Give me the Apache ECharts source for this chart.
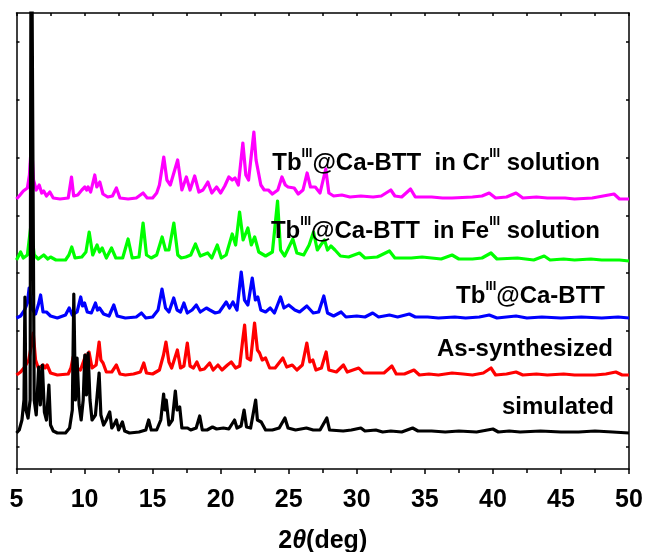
<!DOCTYPE html>
<html>
<head>
<meta charset="utf-8">
<script src="https://cdn.jsdelivr.net/npm/echarts@6/dist/echarts.min.js"></script>
<style>
  html, body { margin: 0; padding: 0; background: #fff; }
  #chart { width: 648px; height: 552px; }
</style>
</head>
<body>
<div id="chart"></div>
<script>
// Powder XRD patterns, intensity in a.u. above each trace's own baseline.
// Each entry: [2theta (deg), intensity]
const simulated = [
  [5.0,0],[5.2,3],[5.4,13],[5.55,33],[5.62,136],[5.7,23],[5.85,15],[6.0,33],[6.08,600],[6.22,600],[6.3,33],
  [6.45,18],[6.63,66],[6.75,28],[6.9,68],[7.05,21],[7.2,13],[7.38,48],[7.5,8],[7.7,2],[8.0,0],
  [8.6,0],[8.9,5],[9.1,23],[9.21,139],[9.33,33],[9.45,75],[9.6,28],[9.75,13],[9.9,33],[10.02,78],
  [10.14,38],[10.26,80],[10.4,33],[10.55,13],[10.8,18],[11.07,60],[11.2,18],[11.4,8],[11.6,13],
  [11.85,21],[12.0,5],[12.15,8],[12.34,13],[12.5,3],[12.78,11],[12.95,2],[13.3,0],[14.0,1],
  [14.5,3],[14.71,13],[14.9,3],[15.3,3],[15.6,13],[15.81,39],[15.9,23],[16.0,33],[16.2,8],
  [16.45,13],[16.67,42],[16.8,23],[16.99,26],[17.15,5],[17.57,5],[17.8,3],[18.2,5],[18.46,17],
  [18.65,3],[19.0,3],[19.4,6],[19.7,4],[20.2,5],[20.6,4],[21.02,13],[21.2,5],[21.5,7],[21.72,23],
  [21.9,6],[22.2,5],[22.57,33],[22.7,13],[22.98,11],[23.3,3],[23.8,3],[24.3,5],[24.72,15],
  [24.95,5],[25.5,3],[26.3,5],[26.8,3],[27.3,3],[27.8,15],[28.0,3],[29.0,2],[29.6,3],[30.3,5],[30.6,2],
  [31.4,3],[31.9,1],[32.5,2],[33.3,1],[34.1,5],[34.5,2],[35.5,2],[36.5,1],[37.5,2],[38.8,1],[40.0,4],[40.4,1],
  [41.2,2],[42.0,1],[43.5,2],[45.0,1],[46.3,1],[47.5,2],[48.8,1],[50.0,0]
];
const asSynthesized = [
  [5.0,0],[5.3,3],[5.6,8],[5.9,15],[6.1,30],[6.23,42],[6.4,15],[6.6,7],[6.96,10],[7.1,7],
  [7.25,10],[7.5,2],[8.0,0],[8.8,1],[9.0,7],[9.16,18],[9.35,7],[9.7,5],[10.09,20],[10.2,15],
  [10.33,23],[10.55,7],[10.85,10],[11.07,33],[11.2,15],[11.36,12],[11.6,3],[12.0,3],[12.34,10],
  [12.6,1],[13.0,0],[13.6,1],[14.1,3],[14.35,12],[14.55,2],[15.0,1],[15.5,5],[15.8,20],[15.98,33],
  [16.2,13],[16.4,7],[16.82,25],[17.05,7],[17.3,9],[17.55,32],[17.75,9],[18.0,7],[18.25,13],
  [18.5,5],[18.8,6],[19.19,12],[19.45,5],[19.8,10],[20.1,5],[20.5,10],[20.78,13],[21.1,7],
  [21.4,9],[21.62,35],[21.76,50],[21.95,17],[22.2,15],[22.49,52],[22.7,25],[22.86,22],[23.05,15],
  [23.3,17],[23.6,7],[24.0,7],[24.57,17],[24.85,8],[25.26,10],[25.6,5],[26.0,10],[26.33,32],
  [26.55,13],[26.77,15],[27.0,5],[27.4,7],[27.75,23],[27.95,5],[28.5,3],[29.02,10],[29.3,3],
  [30.14,7],[30.5,2],[31.3,2],[32.0,2],[32.58,9],[32.9,1],[33.5,1],[34.2,5],[34.6,0],[35.3,1],[36.0,0],
  [37.0,2],[37.8,1],[38.5,0],[39.3,2],[39.86,7],[40.2,0],[41.0,1],[41.7,3],[42.2,0],[43.2,1],[44.0,0],
  [45.2,1],[46.0,0],[47.5,0],[48.3,1],[49.03,3],[49.5,0],[50.0,0]
];
const tbCaBTT = [
  [5.0,0],[5.3,2],[5.6,8],[5.8,15],[5.93,30],[6.1,10],[6.4,4],[6.6,13],[6.77,23],[6.95,6],
  [7.2,6],[7.5,2],[8.0,0],[8.6,3],[8.87,10],[9.1,3],[9.45,6],[9.72,21],[9.85,12],[10.0,15],
  [10.2,6],[10.5,5],[10.8,15],[10.95,8],[11.1,10],[11.4,4],[11.8,2],[12.15,13],[12.4,2],[13.0,0],
  [13.8,1],[14.18,5],[14.5,0],[15.0,1],[15.4,8],[15.69,29],[15.95,10],[16.2,6],[16.55,20],
  [16.8,8],[17.05,6],[17.3,15],[17.55,5],[17.9,8],[18.21,13],[18.5,6],[18.95,10],[19.2,8],
  [19.6,5],[19.9,6],[20.41,16],[20.65,10],[20.9,16],[21.2,8],[21.51,46],[21.75,18],[22.0,13],
  [22.32,40],[22.55,18],[22.73,21],[22.95,8],[23.3,6],[23.64,10],[23.95,5],[24.4,21],[24.65,10],
  [25.0,13],[25.45,8],[25.8,6],[26.33,12],[26.8,5],[27.2,6],[27.58,22],[27.85,5],[28.3,2],
  [28.85,6],[29.2,1],[30.0,2],[30.6,1],[31.17,5],[31.6,1],[32.4,3],[33.0,1],[33.86,4],[34.3,1],
  [35.2,1],[36.0,0],[37.2,1],[38.0,0],[39.0,1],[39.73,3],[40.3,0],[41.7,2],[42.5,0],[43.6,1],
  [45.0,0],[46.5,1],[48.0,0],[49.2,1],[50.0,0]
];
const inFeSolution = [
  [5.0,1],[5.3,9],[5.5,3],[5.8,6],[6.06,36],[6.3,6],[6.6,2],[7.0,6],[7.3,2],[7.5,4],[7.9,1],
  [8.6,1],[8.85,6],[9.06,14],[9.3,3],[9.8,4],[10.1,9],[10.34,29],[10.6,6],[10.92,16],[11.1,9],
  [11.3,13],[11.6,3],[11.98,13],[12.3,3],[12.8,3],[13.2,22],[13.5,3],[14.0,4],[14.3,38],
  [14.55,6],[14.9,3],[15.3,6],[15.7,24],[15.95,11],[16.2,11],[16.56,38],[16.85,6],[17.1,3],
  [17.44,4],[17.8,6],[18.15,17],[18.5,5],[19.05,8],[19.35,3],[19.75,16],[20.05,3],[20.4,6],
  [20.85,27],[21.1,16],[21.39,49],[21.65,21],[22.0,33],[22.25,16],[22.5,24],[22.8,9],[23.3,5],
  [23.8,9],[24.18,60],[24.4,11],[24.7,5],[25.3,22],[25.6,8],[26.1,6],[26.5,16],[26.82,29],
  [27.1,11],[27.35,16],[27.63,21],[27.85,11],[28.1,15],[28.4,11],[28.8,5],[29.4,4],[30.2,8],
  [30.6,3],[31.5,4],[32.4,10],[32.8,3],[34.0,3],[34.8,4],[35.5,3],[36.2,2],[36.8,5],[37.0,6],[37.5,2],[38.5,2],
  [39.2,3],[39.86,8],[40.3,2],[41.8,3],[43.0,1],[43.77,5],[44.2,1],[45.2,2],[46.0,1],[47.2,2],[48.0,1],[49.3,1],[50.0,0]
];
const inCrSolution = [
  [5.0,0],[5.2,3],[5.5,8],[5.8,11],[5.95,24],[6.1,57],[6.25,19],[6.45,9],[6.67,14],[6.85,6],
  [7.0,8],[7.2,3],[7.45,7],[7.7,1],[8.2,0],[8.8,1],[9.04,22],[9.2,3],[9.5,4],[9.8,9],[10.02,12],
  [10.15,9],[10.26,12],[10.45,7],[10.75,24],[10.9,12],[11.12,17],[11.35,5],[11.7,2],[12.05,3],
  [12.34,11],[12.6,1],[13.2,0],[13.8,1],[14.3,6],[14.6,1],[15.0,1],[15.3,6],[15.5,14],[15.82,42],
  [16.05,19],[16.3,14],[16.84,39],[17.15,9],[17.48,22],[17.75,9],[18.09,23],[18.4,7],[18.7,9],
  [19.06,17],[19.35,6],[19.7,12],[20.0,6],[20.3,13],[20.6,22],[20.85,19],[21.05,21],[21.3,14],
  [21.63,56],[21.85,24],[22.05,19],[22.44,67],[22.6,39],[22.73,37],[22.95,14],[23.2,9],[23.5,9],
  [23.8,5],[24.2,9],[24.5,22],[24.75,14],[24.95,12],[25.4,11],[25.7,5],[26.05,9],[26.35,26],
  [26.6,12],[26.95,12],[27.3,6],[27.72,30],[27.95,6],[28.3,3],[28.9,4],[29.5,2],[30.3,3],
  [31.2,2],[31.8,3],[32.5,9],[32.8,3],[33.3,2],[33.95,10],[34.3,2],[35.5,2],[36.3,1],[37.0,1],[38.5,2],
  [39.2,3],[39.73,6],[40.2,1],[41.0,2],[41.7,6],[42.2,1],[43.2,2],[44.0,1],[45.3,1],[46.0,0],
  [47.3,1],[48.9,5],[49.3,0],[50.0,0]
];

// vertical offsets of the stacked traces (a.u.)
const traceOffsets = [36, 94, 151, 208, 270];
const traceColors = ['#000000', '#ff0000', '#0000ff', '#00ff00', '#ff00ff'];
const traceData = [simulated, asSynthesized, tbCaBTT, inFeSolution, inCrSolution];

// tick labels on the 2theta axis
const xTickLabels = ['5','10','15','20','25','30','35','40','45','50'];
// tick positions along the intensity axis (a.u.)
const yTickValues = [22, 80, 138, 196, 253, 311, 369, 427];

// trace captions (rich text segments)
const captions = [
  { parts: ['Tb', 'III', '@Ca-BTT  in Cr', 'III', ' solution'], right: 600, y: 160 },
  { parts: ['Tb', 'III', '@Ca-BTT  in Fe', 'III', ' solution'], right: 600, y: 228 },
  { parts: ['Tb', 'III', '@Ca-BTT'], right: 605, y: 293 },
  { parts: ['As-synthesized'], right: 613, y: 352 },
  { parts: ['simulated'], right: 614, y: 410 }
];

const FONT = "'Liberation Sans', Arial, Helvetica, sans-serif";

const chart = echarts.init(document.getElementById('chart'), null, { renderer: 'canvas' });

const series = traceData.map((d, i) => ({
  type: 'line',
  data: d.map(p => [p[0], p[1] + traceOffsets[i]]),
  showSymbol: false,
  symbol: 'none',
  smooth: false,
  clip: true,
  lineStyle: { color: traceColors[i], width: 3.2, join: 'round' },
  z: 2 + (4 - i)
}));

const axisLineStyle = { color: '#000', width: 1.5 };

const graphics = captions.map(c => {
  let txt = '';
  c.parts.forEach(p => {
    const isSup = p === 'III';
    txt += '{' + (isSup ? 's' : 'n') + '|' + p + '}';
  });
  return {
    type: 'text',
    right: 648 - c.right,
    top: c.y - 15,
    z: 100,
    style: {
      text: txt,
      fill: '#000',
      rich: {
        n: { fontSize: 24, fontWeight: 'bold', fontFamily: FONT, color: '#000', lineHeight: 30, verticalAlign: 'bottom' },
        s: { fontSize: 13, fontWeight: 'bold', fontFamily: FONT, color: '#000', lineHeight: 30, verticalAlign: 'top', padding: [2, 0, 0, 0] }
      }
    }
  };
});

chart.setOption({
  animation: false,
  backgroundColor: '#fff',
  grid: { left: 16.5, right: 19, top: 13, bottom: 83, containLabel: false, outerBoundsMode: 'none' },
  xAxis: [
    {
      type: 'value', position: 'bottom', min: 5, max: 50, interval: 5,
      axisLine: { show: true, onZero: false, lineStyle: axisLineStyle },
      axisTick: { show: true, inside: false, length: 5, lineStyle: axisLineStyle },
      minorTick: { show: true, splitNumber: 2, length: 4, lineStyle: axisLineStyle },
      splitLine: { show: false },
      axisLabel: {
        show: true, margin: 19, color: '#000', fontSize: 25, fontWeight: 'bold', fontFamily: FONT,
        formatter: v => xTickLabels[Math.round((v - 5) / 5)]
      },
      name: '{a|2}{b|θ}{a|(deg)}',
      nameLocation: 'middle',
      nameGap: 60,
      nameTextStyle: {
        rich: {
          a: { fontSize: 25, fontWeight: 'bold', fontFamily: FONT, color: '#000' },
          b: { fontSize: 25, fontWeight: 'bold', fontStyle: 'italic', fontFamily: FONT, color: '#000' }
        }
      }
    },
    {
      type: 'value', position: 'top', min: 5, max: 50, interval: 2.5,
      axisLine: { show: true, onZero: false, lineStyle: axisLineStyle },
      axisTick: { show: true, inside: true, length: 3, lineStyle: axisLineStyle },
      axisLabel: { show: false },
      splitLine: { show: false }
    }
  ],
  yAxis: [
    {
      type: 'value', position: 'left', min: 0, max: 456,
      axisLine: { show: true, onZero: false, lineStyle: axisLineStyle },
      axisTick: { show: true, inside: true, length: 3, lineStyle: axisLineStyle, customValues: yTickValues },
      axisLabel: { show: false, customValues: yTickValues },
      splitLine: { show: false }
    },
    {
      type: 'value', position: 'right', min: 0, max: 456,
      axisLine: { show: true, onZero: false, lineStyle: axisLineStyle },
      axisTick: { show: true, inside: true, length: 3, lineStyle: axisLineStyle, customValues: yTickValues },
      axisLabel: { show: false, customValues: yTickValues },
      splitLine: { show: false }
    }
  ],
  series: series,
  graphic: graphics
});
</script>
</body>
</html>
